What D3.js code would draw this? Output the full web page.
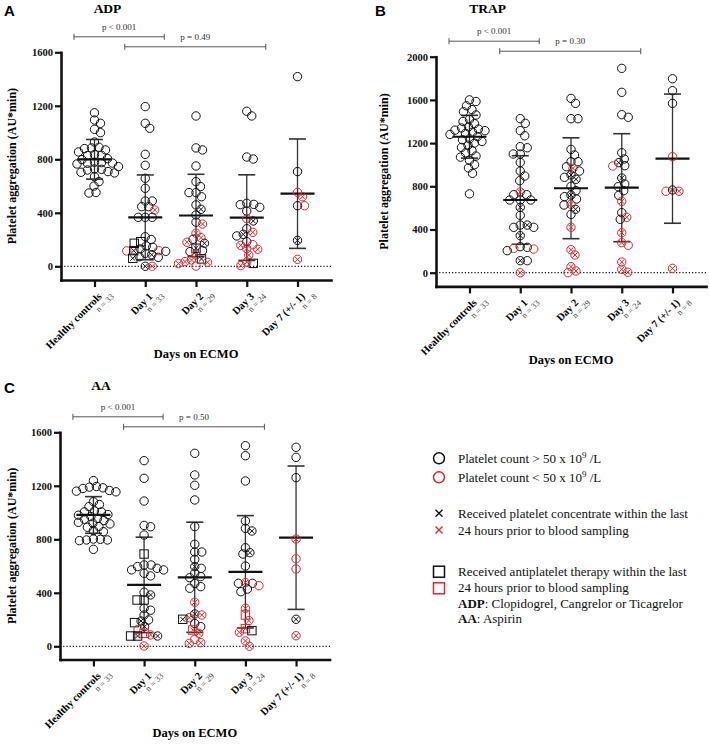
<!DOCTYPE html>
<html>
<head>
<meta charset="utf-8">
<script src="https://cdn.jsdelivr.net/npm/d3@7/dist/d3.min.js"></script>
<style>
  body { margin: 0; background: #fff; }
  svg, svg text { font-family: "Liberation Serif", "Times New Roman", serif !important; }
  svg text.sans { font-family: "Liberation Sans", Arial, sans-serif !important; }
</style>
</head>
<body>
<svg id="chart" width="709" height="744"></svg>
<script>
// categories and labels
const categories = ["Healthy controls", "Day 1", "Day 2", "Day 3", "Day 7 (+/- 1)"];
const nLabels = ["n = 33", "n = 33", "n = 29", "n = 24", "n = 8"];
const ticks1600 = [0, 400, 800, 1200, 1600];
const ticks2000 = [0, 400, 800, 1200, 1600, 2000];

// point codes: b/r = black/red, o = circle, x = circle with cross, s = square, q = square with cross
// ADP
const adpHealthy = [1148,1094,1069,1024,999,929,890,885,880,870,855,835,830,828,805,798,778,775,772,770,765,745,728,725,720,708,703,698,670,633,600,552,548];
const adpDay1 = [[1194,"bo"],[1069,"bo"],[1032,"bo"],[837,"bo"],[755,"bo"],[658,"bo"],[583,"bo"],[488,"bo"],[488,"bo"],[446,"bo"],[446,"bo"],[421,"rx"],[366,"bo"],[366,"bo"],[366,"bo"],[221,"bo"],[200,"bo"],[184,"bs"],[172,"bs"],[152,"bo"],[142,"bo"],[130,"bo"],[117,"bq"],[117,"ro"],[115,"ro"],[112,"bo"],[97,"bo"],[87,"bx"],[72,"bo"],[67,"bo"],[60,"bq"],[0,"bx"],[0,"rx"]];
const adpDay2 = [[1124,"bo"],[885,"bo"],[870,"bo"],[750,"bo"],[633,"bo"],[596,"bo"],[551,"bo"],[551,"bo"],[520,"bo"],[459,"bo"],[426,"bx"],[384,"bo"],[330,"bo"],[316,"rx"],[247,"rx"],[214,"rx"],[202,"bo"],[180,"rx"],[172,"bx"],[135,"bq"],[117,"bo"],[110,"bo"],[85,"rx"],[55,"bq"],[47,"rx"],[35,"rx"],[30,"rx"],[20,"rx"],[2,"ro"]];
const adpDay3 = [[1159,"bo"],[1124,"bo"],[817,"bo"],[802,"bo"],[471,"bo"],[463,"bo"],[461,"bo"],[441,"bo"],[413,"bo"],[356,"ro"],[339,"bx"],[281,"bo"],[254,"rx"],[239,"bx"],[227,"bo"],[184,"bo"],[162,"ro"],[157,"rx"],[132,"rx"],[127,"rx"],[84,"rx"],[32,"rx"],[22,"bs"],[5,"rx"]];
const adpDay7 = [[1418,"bo"],[708,"bo"],[553,"ro"],[520,"rx"],[453,"bo"],[453,"ro"],[194,"bx"],[52,"rx"]];
const adpMean = [800, 366, 380, 364, 543];
const adpSd = [148, 317, 308, 320, 409];
const adpPvalues = [[0, 1, "p < 0.001"], [1, 3, "p = 0.49"]];

// TRAP
const trapHealthy = [1600,1585,1545,1510,1490,1460,1420,1400,1380,1350,1340,1330,1320,1315,1300,1290,1280,1260,1240,1230,1215,1200,1180,1160,1130,1110,1080,1070,1040,1000,970,920,730];
const trapDay1 = [[1426,"bo"],[1383,"bo"],[1315,"bo"],[1268,"bo"],[1167,"bo"],[1157,"bo"],[1099,"bo"],[1099,"bo"],[1021,"bo"],[941,"bo"],[895,"bo"],[852,"bo"],[747,"rx"],[722,"bo"],[722,"bo"],[673,"bo"],[673,"bo"],[673,"bo"],[605,"bx"],[531,"bo"],[441,"bo"],[441,"bx"],[420,"bo"],[420,"bo"],[343,"bx"],[241,"bo"],[235,"bo"],[225,"ro"],[219,"ro"],[204,"bo"],[111,"bx"],[111,"bo"],[0,"rx"]];
const trapDay2 = [[1614,"bo"],[1568,"bo"],[1426,"bo"],[1426,"bo"],[1142,"bo"],[1090,"bo"],[1028,"bo"],[1028,"bo"],[981,"bo"],[966,"rx"],[941,"bo"],[905,"bx"],[883,"bo"],[865,"bx"],[800,"bo"],[760,"bo"],[719,"bx"],[704,"bo"],[682,"bo"],[633,"rx"],[627,"bo"],[587,"bx"],[540,"bo"],[420,"rx"],[213,"rx"],[164,"rx"],[56,"rx"],[16,"rx"],[0,"ro"]];
const trapDay3 = [[1892,"bo"],[1670,"bo"],[1463,"bo"],[1439,"bo"],[1111,"bo"],[1053,"bo"],[1019,"bx"],[991,"bo"],[988,"ro"],[877,"bx"],[821,"bo"],[796,"bo"],[760,"bo"],[716,"bo"],[661,"rx"],[556,"bo"],[513,"rx"],[494,"bo"],[370,"rx"],[278,"rx"],[254,"ro"],[99,"rx"],[31,"rx"],[4,"rx"]];
const trapDay7 = [[1796,"bo"],[1685,"bo"],[1568,"bo"],[1074,"ro"],[766,"bx"],[754,"rx"],[754,"ro"],[40,"rx"]];
const trapMean = [1259, 673, 782, 787, 1056];
const trapSd = [198, 410, 467, 500, 598];
const trapPvalues = [[0, 1, "p < 0.001"], [1, 3, "p = 0.30"]];

// AA
const aaHealthy = [1239,1195,1190,1185,1180,1165,1160,1155,1081,1060,1044,1012,1005,1005,985,980,970,957,950,940,927,920,915,895,890,865,857,802,800,795,795,790,725];
const aaDay1 = [[1388,"bo"],[1256,"bo"],[1086,"bo"],[904,"bo"],[894,"bo"],[832,"bo"],[690,"bs"],[608,"bo"],[608,"bo"],[596,"bo"],[583,"bo"],[571,"bo"],[571,"bo"],[546,"bo"],[526,"bo"],[404,"bo"],[384,"bx"],[346,"bs"],[346,"bs"],[284,"bo"],[270,"bo"],[234,"bo"],[197,"bo"],[189,"bx"],[177,"bs"],[147,"bx"],[127,"ro"],[97,"rs"],[85,"rx"],[77,"bq"],[77,"bx"],[77,"bs"],[2,"rx"]];
const aaDay2 = [[1443,"bo"],[1281,"bo"],[1204,"bo"],[1094,"bo"],[895,"bo"],[763,"bo"],[705,"bo"],[705,"bo"],[650,"bo"],[596,"bx"],[583,"bo"],[546,"bo"],[521,"bo"],[513,"bo"],[470,"bo"],[446,"bo"],[434,"bo"],[329,"rx"],[242,"bx"],[234,"rx"],[214,"rx"],[202,"bq"],[170,"bo"],[147,"bo"],[122,"rq"],[97,"rx"],[52,"ro"],[27,"rx"],[22,"rx"]];
const aaDay3 = [[1500,"bo"],[1425,"bo"],[1236,"bo"],[937,"bo"],[882,"bo"],[862,"bx"],[737,"bo"],[700,"bx"],[690,"bo"],[600,"bo"],[476,"rx"],[471,"bo"],[471,"bo"],[453,"ro"],[428,"bo"],[408,"bo"],[284,"rx"],[234,"rs"],[192,"rx"],[132,"rq"],[117,"bs"],[105,"rx"],[40,"rx"],[0,"rx"]];
const aaDay7 = [[1488,"bo"],[1413,"bo"],[1261,"bo"],[802,"rx"],[655,"ro"],[578,"ro"],[202,"bx"],[79,"rx"]];
const aaMean = [982, 459, 516, 557, 812];
const aaSd = [137, 357, 412, 420, 536];
const aaPvalues = [[0, 1, "p < 0.001"], [1, 3, "p = 0.50"]];

const legendLines = [
  "Platelet count > 50 x 10",
  "Platelet count < 50 x 10",
  "Received platelet concentrate within the last",
  "24 hours prior to blood sampling",
  "Received antiplatelet therapy within the last",
  "24 hours prior to blood sampling"
];

const RED = "#e2262c";
const INK = "#111";
const svg = d3.select("#chart");

function drawMarker(g, x, y, code, r, sw) {
  const color = code[0] === "r" ? RED : INK;
  const shape = code[1];
  if (shape === "o" || shape === "x") {
    g.append("circle").attr("cx", x).attr("cy", y).attr("r", r)
      .attr("fill", "none").attr("stroke", color).attr("stroke-width", sw);
  } else {
    g.append("rect").attr("x", x - r).attr("y", y - r).attr("width", 2 * r).attr("height", 2 * r)
      .attr("fill", "none").attr("stroke", color).attr("stroke-width", sw);
  }
  if (shape === "x" || shape === "q") {
    const c = r * 0.6;
    g.append("path").attr("d", `M${x - c},${y - c}L${x + c},${y + c}M${x - c},${y + c}L${x + c},${y - c}`)
      .attr("stroke", color).attr("stroke-width", sw);
  }
}

// simple beeswarm: nearest free horizontal slot
function swarm(points, cx, minD) {
  const placed = [];
  points.slice().sort((a, b) => a.y - b.y).forEach(p => {
    let off = 0;
    for (let k = 0; k < 400; k++) {
      const o = k === 0 ? 0 : (k % 2 ? 1 : -1) * Math.ceil(k / 2) * 0.5;
      const ok = placed.every(q => (q.x - cx - o) ** 2 + (q.y - p.y) ** 2 >= minD * minD);
      if (ok) { off = o; break; }
    }
    p.x = cx + off;
    placed.push(p);
  });
  return placed;
}

function drawPanel(cfg, groups, means, sds, tickVals, pvals) {
  const g = svg.append("g");
  const x = d3.scalePoint().domain(categories).range([cfg.left, cfg.right]).padding(0.66);
  const y = d3.scaleLinear().domain([0, cfg.max]).range([cfg.zero, cfg.top]);
  const yAxisScale = d3.scaleLinear().domain([y.invert(cfg.axisY), cfg.max]).range([cfg.axisY, cfg.top]);

  // panel letter and title
  g.append("text").attr("class", "sans").attr("x", cfg.letterX).attr("y", cfg.letterY)
    .attr("font-size", 15).attr("font-weight", "bold").text(cfg.letter);
  g.append("text").attr("x", cfg.titleX).attr("y", cfg.titleY).attr("text-anchor", "middle")
    .attr("font-size", 13.5).attr("font-weight", "bold").text(cfg.title);

  // y axis
  const ya = g.append("g").attr("transform", `translate(${cfg.left},0)`)
    .call(d3.axisLeft(yAxisScale).tickValues(tickVals).tickFormat(d3.format("d"))
      .tickSize(6).tickSizeOuter(0).tickPadding(2));
  ya.select(".domain").attr("stroke", INK).attr("stroke-width", 2.6).attr("stroke-linecap", "square");
  ya.selectAll(".tick line").attr("stroke", INK).attr("stroke-width", 2.2);
  ya.selectAll(".tick text").attr("font-size", 10.5).attr("font-weight", "bold").attr("fill", INK);

  // x axis
  const xa = g.append("g").attr("transform", `translate(0,${cfg.axisY})`)
    .call(d3.axisBottom(x).tickSize(7).tickSizeOuter(0).tickFormat(""));
  xa.select(".domain").attr("stroke", INK).attr("stroke-width", 2.6).attr("stroke-linecap", "square");
  xa.selectAll(".tick line").attr("stroke", INK).attr("stroke-width", 2.2);

  categories.forEach((c, i) => {
    const cx = x(c);
    g.append("text").attr("transform", `translate(${cx + 8},${cfg.axisY + 17}) rotate(-45)`)
      .attr("text-anchor", "end").attr("font-size", 10.5).attr("font-weight", "bold").text(c);
    g.append("text").attr("transform", `translate(${cx + 20},${cfg.axisY + 17}) rotate(-45)`)
      .attr("text-anchor", "end").attr("font-size", 8.5).attr("fill", "#444").text(nLabels[i]);
  });

  g.append("text").attr("x", x(categories[2])).attr("y", cfg.daysY).attr("text-anchor", "middle")
    .attr("font-size", 12.5).attr("font-weight", "bold").text("Days on ECMO");

  // y title
  g.append("text")
    .attr("transform", `translate(${cfg.yTitleX},${(cfg.axisY + cfg.top) / 2}) rotate(-90)`)
    .attr("text-anchor", "middle").attr("font-size", 12).attr("font-weight", "bold")
    .text("Platelet aggregation (AU*min)");

  // zero line
  g.append("line").attr("x1", cfg.left).attr("x2", cfg.right + 2)
    .attr("y1", y(0)).attr("y2", y(0))
    .attr("stroke", INK).attr("stroke-width", 1.2).attr("stroke-dasharray", "1.2,2");

  // p value brackets
  pvals.forEach((p, k) => {
    const x1 = x(categories[p[0]]) - 20.5, x2 = x(categories[p[1]]) + 19;
    const by = cfg.top - 15.5 + k * 10;
    g.append("path").attr("d", `M${x1},${by - 3}V${by + 3}M${x1},${by}H${x2}M${x2},${by - 3}V${by + 3}`)
      .attr("stroke", "#555").attr("stroke-width", 1).attr("fill", "none");
    g.append("text").attr("x", (x1 + x2) / 2).attr("y", by - 7).attr("text-anchor", "middle")
      .attr("font-size", 9).attr("fill", "#333").text(p[2]);
  });

  // mean and SD
  categories.forEach((c, i) => {
    const cx = x(c);
    const top = y(means[i] + sds[i]), bot = y(means[i] - sds[i]);
    g.append("line").attr("x1", cx).attr("x2", cx).attr("y1", top).attr("y2", bot)
      .attr("stroke", "#333").attr("stroke-width", 1.3);
    [top, bot].forEach(yy => g.append("line").attr("x1", cx - 8.5).attr("x2", cx + 8.5)
      .attr("y1", yy).attr("y2", yy).attr("stroke", "#333").attr("stroke-width", 1.6));
    g.append("line").attr("x1", cx - 17).attr("x2", cx + 17)
      .attr("y1", y(means[i])).attr("y2", y(means[i]))
      .attr("stroke", INK).attr("stroke-width", 2.2);
  });

  // points
  groups.forEach((grp, i) => {
    const pts = grp.map(d => typeof d === "number" ? { v: d, code: "bo" } : { v: d[0], code: d[1] })
      .map(p => Object.assign(p, { y: y(p.v) }));
    swarm(pts, x(categories[i]), 6.6).forEach(p => drawMarker(g, p.x, p.y, p.code, 4.2, 1));
  });
}

drawPanel({ left: 61, right: 331, top: 52.3, zero: 266.3, axisY: 280, max: 1600,
  title: "ADP", titleX: 107.5, titleY: 13, letter: "A", letterX: 4, letterY: 16, yTitleX: 16, daysY: 358 },
  [adpHealthy, adpDay1, adpDay2, adpDay3, adpDay7], adpMean, adpSd, ticks1600, adpPvalues);

drawPanel({ left: 436, right: 706, top: 56.7, zero: 272.7, axisY: 286.4, max: 2000,
  title: "TRAP", titleX: 487.5, titleY: 13, letter: "B", letterX: 375, letterY: 16, yTitleX: 388, daysY: 364 },
  [trapHealthy, trapDay1, trapDay2, trapDay3, trapDay7], trapMean, trapSd, ticks2000, trapPvalues);

drawPanel({ left: 60, right: 329.5, top: 432.3, zero: 646.3, axisY: 659.5, max: 1600,
  title: "AA", titleX: 101, titleY: 390, letter: "C", letterX: 4, letterY: 393, yTitleX: 16, daysY: 737 },
  [aaHealthy, aaDay1, aaDay2, aaDay3, aaDay7], aaMean, aaSd, ticks1600, aaPvalues);

// legend
const lg = svg.append("g");
const lx = 439, tx = 458;
const markerRows = [[458.3, "bo"], [477.3, "ro"], [571.7, "bs"], [588.3, "rs"]];
markerRows.forEach(m => drawMarker(lg, lx, m[0], m[1], 5.5, 1.5));
[[513.3, INK], [530, RED]].forEach(m => {
  lg.append("path").attr("d", `M${lx - 3.5},${m[0] - 3.5}L${lx + 3.5},${m[0] + 3.5}M${lx - 3.5},${m[0] + 3.5}L${lx + 3.5},${m[0] - 3.5}`)
    .attr("stroke", m[1]).attr("stroke-width", 1.4);
});
const lineY = [463.3, 481.7, 518, 534.5, 575.5, 592];
legendLines.forEach((t, i) => {
  const el = lg.append("text").attr("x", tx).attr("y", lineY[i]).attr("font-size", 13).attr("fill", INK).text(t);
  if (i < 2) {
    el.append("tspan").attr("dy", -5).attr("font-size", 9).text("9");
    el.append("tspan").attr("dy", 5).text(" /L");
  }
});
const l7 = lg.append("text").attr("x", tx).attr("y", 607.5).attr("font-size", 13).attr("fill", INK);
l7.append("tspan").attr("font-weight", "bold").text("ADP");
l7.append("tspan").text(": Clopidogrel, Cangrelor or Ticagrelor");
const l8 = lg.append("text").attr("x", tx).attr("y", 623).attr("font-size", 13).attr("fill", INK);
l8.append("tspan").attr("font-weight", "bold").text("AA");
l8.append("tspan").text(": Aspirin");
</script>
</body>
</html>
